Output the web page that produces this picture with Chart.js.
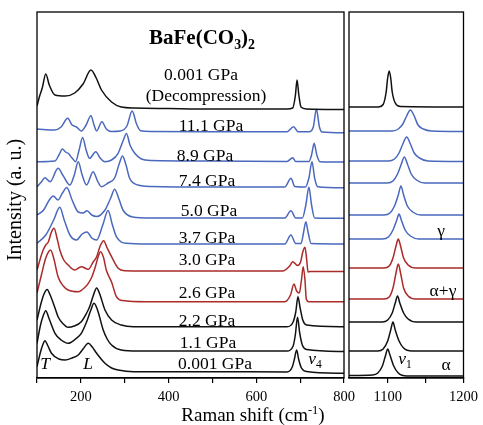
<!DOCTYPE html>
<html><head><meta charset="utf-8">
<script src="https://cdn.jsdelivr.net/npm/chart.js@4.4.0/dist/chart.umd.min.js"></script>
<style>
html,body{margin:0;padding:0;background:#fff;}
#wrap{position:relative;width:483px;height:425px;background:#fff;}
canvas{position:absolute;left:0;top:0;}
</style></head><body>
<div id="wrap"><canvas id="low" width="483" height="425"></canvas><canvas id="high" width="483" height="425"></canvas></div>
<script>
// ---------- DATA (Raman shift cm-1, stacked intensity a.u.) ----------
const seriesNames = ['0.001 GPa (Decompression)','11.1 GPa','8.9 GPa','7.4 GPa','5.0 GPa','3.7 GPa','3.0 GPa','2.6 GPa','2.2 GPa','1.1 GPa','0.001 GPa'];
const seriesPhase = ['black','blue','blue','blue','blue','blue','red','red','black','black','black'];

// low-frequency panel (100-800 cm-1)
const lowDecomp = [[100,272],[106,282],[112,290],[120,304],[128,293],[141,283],[164,282],[186,285],[205,294],[223,308],[235,300],[247,288],[270,276],[292,271],[323,270],[400,269.5],[500,269],[600,269],[670,269],[683,270],[689,282],[693,298],[697,283],[702,271],[715,269],[800,268.5]];
const low111 = [[100,249],[140,248],[155,251],[170,259.7],[180,253],[190,251],[201,247],[212,253],[223,262.3],[230,253],[236,247],[248,256.3],[258,249],[270,246.5],[290,247],[305,252],[317,267],[327,254],[336,247.3],[360,246.5],[500,246.3],[670,246.3],[685,251.3],[695,246.3],[720,246.3],[730,251],[737,268.7],[744,251],[750,246],[800,245.3]];
const low89 = [[100,216.3],[141,217],[150,223],[158,229],[165,226],[171,224.7],[180,220],[188,216.3],[196,228],[204,240.5],[212,228],[220,219.7],[234,226.3],[244,220],[255,216.3],[270,218],[285,224.7],[297,238],[304,244.5],[312,233],[323,224.7],[338,219],[360,217.5],[500,217],[670,216.5],[683,220.3],[690,216.5],[720,216.5],[726,223],[732,234.7],[738,223],[745,216.3],[800,216]];
const low74 = [[100,191.3],[110,196],[118,200.3],[130,196.3],[148,209.7],[160,202],[175,193],[185,203],[194,216.3],[203,203],[213,193],[228,206.3],[238,197],[247,191.3],[262,195],[277,200],[288,215],[295,222],[303,213],[311,200],[330,193],[360,191.5],[500,191],[665,191],[679,199.7],[688,191.5],[712,191],[720,200],[727,216.3],[733,200],[740,191.3],[800,190.3]];
const low50 = [[100,163],[115,168],[128,178],[137,182],[148,178],[158,185],[168,190.5],[180,178],[194,166],[205,165],[214,167.3],[225,163],[236,161.5],[255,168],[268,180],[277,188.7],[286,180],[296,168],[318,161],[360,160],[500,160],[665,160],[679,167.3],[690,160],[705,160],[713,173],[720,191],[726,173],[733,160],[800,159.7]];
const low37 = [[100,134.7],[120,143],[138,158],[152,170.7],[162,158],[175,143],[190,138],[203,144],[214,146],[225,140],[236,138],[250,153],[262,167.5],[272,153],[281,141.3],[304,134.7],[350,134],[500,134],[665,134],[679,143],[690,134.5],[702,134.5],[708,146],[713,156.3],[718,146],[725,134.5],[800,134]];
const low30 = [[100,108],[108,120],[114,128],[120,133],[126,136.3],[133,146],[139,149.7],[145,141],[152,128],[161,118],[171,113],[186,108],[201,111.3],[217,108.7],[228,116],[236,121.3],[244,132],[252,137.3],[260,130],[270,121.3],[285,109.7],[300,107.3],[400,107],[500,107],[660,107],[676,112],[683,116.3],[694,112.5],[701,116],[706,126],[711,130.7],[715,118],[718,106],[722,106.5],[800,106.5]];
const low26 = [[100,85],[110,103],[120,120],[131,128],[138,120],[148,101.3],[160,92],[171,88],[194,86.3],[210,91],[217,94.7],[225,101],[232,109.7],[240,122],[245,126.3],[252,120],[258,108],[270,96],[281,81.3],[295,77.5],[350,76.3],[500,76.3],[665,76.3],[678,83],[686,94],[692,87],[698,85],[703,98],[707,111.3],[711,98],[714,79],[720,76.3],[800,76.3]];
const low22 = [[100,58],[110,76],[116,84],[123,88.5],[130,83],[141,70],[148,61.3],[160,54],[171,50.7],[185,52],[201,56.3],[212,64],[220,71.3],[228,82],[236,90],[243,84],[255,68],[270,58],[292,53],[320,51.3],[500,51.3],[670,51.3],[684,56],[690,66],[695,81.3],[700,70],[706,58],[715,53],[800,51.3]];
const low11 = [[100,34.7],[108,53],[114,62],[120,67.3],[127,60],[141,44.7],[155,38],[171,34.7],[188,39],[201,44.7],[213,56],[222,67],[230,74.7],[238,68],[251,48],[260,39],[270,33],[292,28],[330,27],[500,27],[670,27],[684,32],[689,43],[694,60.7],[699,45],[705,33],[715,28.5],[800,26.5]];
const low0 = [[100,11.3],[108,26],[113,33],[118,37.3],[125,32],[133,24.7],[150,19],[164,18],[180,20],[194,23],[205,29],[217,34.7],[226,31],[236,24.7],[255,14.7],[270,10],[285,8],[320,6.3],[500,6.3],[670,6],[682,11],[687,19],[692,28],[697,18],[703,10],[715,6.5],[800,4.7]];

// high-frequency panel (nu1 region)
const highDecomp = [[1049,271],[1088,271],[1094,273.5],[1098,286],[1100,300],[1102,307],[1104,300],[1106,286],[1110,275],[1117,271.5],[1200,271]];
const high111 = [[1049,247],[1106,247],[1114,249],[1120,254],[1125,262],[1130,268],[1135,262],[1140,253],[1147,249],[1158,247],[1200,246.5]];
const high89 = [[1049,217],[1101,217],[1109,219],[1115,225],[1120,234],[1125,241],[1130,234],[1135,225],[1142,220],[1153,217],[1200,216.5]];
const high74 = [[1049,195],[1099,195],[1107,197],[1113,204],[1118,214],[1122,221],[1126,214],[1131,204],[1138,198],[1149,195],[1200,195]];
const high50 = [[1049,163],[1095,163],[1103,165],[1109,172],[1114,183],[1117.5,192],[1121,183],[1126,172],[1133,166],[1144,163],[1200,163]];
const high37 = [[1049,139],[1093,139],[1101,141],[1107,148],[1112,158],[1115,164],[1118,158],[1123,148],[1130,142],[1141,139],[1200,139]];
const high30 = [[1049,110],[1095,110],[1102,112],[1107,120],[1111,132],[1114,139],[1117,132],[1121,120],[1127,113],[1137,110],[1200,110]];
const high26 = [[1049,79],[1095,79],[1102,81],[1107,90],[1111,105],[1114,114],[1117,105],[1121,90],[1127,82],[1137,79],[1200,79]];
const high22 = [[1049,56],[1093,56],[1100,58],[1106,65],[1110,75],[1113,82],[1116,75],[1121,65],[1127,59],[1138,56],[1200,56]];
const high11 = [[1049,27],[1087,27],[1094,29],[1100,37],[1104,48],[1107,56],[1110,48],[1115,37],[1121,30],[1132,27],[1200,27]];
const high0 = [[1049,2.5],[1080,3],[1087,5],[1093,12],[1097,22],[1100,29],[1103,23],[1108,12],[1114,5],[1125,2],[1200,2]];

const lowSpectra = [lowDecomp, low111, low89, low74, low50, low37, low30, low26, low22, low11, low0];
const highSpectra = [highDecomp, high111, high89, high74, high50, high37, high30, high26, high22, high11, high0];

const lowTicks = [100,200,300,400,500,600,700,800];
const lowTickLabels = [200,400,600,800];
const highTicks = [1100,1150,1200];
const highTickLabels = [1100,1200];

// ---------- STYLE ----------
const phaseColor = {black:'#111111', blue:'#4a68bd', red:'#ab2a2a'};
const SERIF = '"Liberation Serif","DejaVu Serif",serif';

function makeDatasets(spectra){
  return spectra.map((s,i)=>({
    label: seriesNames[i],
    data: s.map(p=>({x:p[0], y:p[1]})),
    borderColor: phaseColor[seriesPhase[i]],
    borderWidth: 1.5,
    pointRadius: 0,
    fill: false,
    cubicInterpolationMode: 'monotone'
  }));
}

function drawRich(ctx, parts, cx, baseY, size, color){
  ctx.save();
  ctx.fillStyle = color || '#000';
  ctx.textBaseline = 'alphabetic';
  ctx.textAlign = 'left';
  const fontFor = p => {
    const sz = (p.sub||p.sup) ? size*0.66 : size;
    return (p.i?'italic ':'') + (p.b?'bold ':'') + sz + 'px ' + SERIF;
  };
  let total = 0;
  parts.forEach(p=>{ ctx.font = fontFor(p); p.w = ctx.measureText(p.t).width; total += p.w; });
  let x = cx - total/2;
  parts.forEach(p=>{
    ctx.font = fontFor(p);
    let y = baseY;
    if (p.sub) y += size*0.25;
    if (p.sup) y -= size*0.38;
    ctx.fillText(p.t, x, y);
    x += p.w;
  });
  ctx.restore();
}

const frame = {
  id:'frame',
  afterDraw(chart){
    const a = chart.chartArea, ctx = chart.ctx;
    ctx.save(); ctx.strokeStyle = '#000'; ctx.lineWidth = 1.3;
    ctx.strokeRect(a.left, a.top, a.right-a.left, a.bottom-a.top);
    ctx.restore();
  }
};

// annotation text (pixel anchors: center x, baseline y)
const lowNotes = [
  {parts:[{t:'BaFe(CO',b:true},{t:'3',b:true,sub:true},{t:')',b:true},{t:'2',b:true,sub:true}], x:202, y:44, size:21},
  {parts:[{t:'0.001 GPa'}], x:201, y:80, size:17.5},
  {parts:[{t:'(Decompression)'}], x:206, y:101, size:17.5},
  {parts:[{t:'11.1 GPa'}], x:211, y:131, size:17.5},
  {parts:[{t:'8.9 GPa'}], x:205, y:161, size:17.5},
  {parts:[{t:'7.4 GPa'}], x:207, y:186, size:17.5},
  {parts:[{t:'5.0 GPa'}], x:209, y:216, size:17.5},
  {parts:[{t:'3.7 GPa'}], x:207, y:243, size:17.5},
  {parts:[{t:'3.0 GPa'}], x:207, y:265, size:17.5},
  {parts:[{t:'2.6 GPa'}], x:207, y:298, size:17.5},
  {parts:[{t:'2.2 GPa'}], x:207, y:326, size:17.5},
  {parts:[{t:'1.1 GPa'}], x:208, y:348, size:17.5},
  {parts:[{t:'0.001 GPa'}], x:215, y:369, size:17.5},
  {parts:[{t:'T',i:true}], x:45, y:369, size:17.5},
  {parts:[{t:'L',i:true}], x:88, y:369, size:17.5},
  {parts:[{t:'ν',i:true},{t:'4',sub:true}], x:315, y:364, size:17.5},
  {parts:[{t:'Raman shift (cm'},{t:'-1',sup:true},{t:')'}], x:253, y:421, size:19}
];
const highNotes = [
  {parts:[{t:'ν',i:true},{t:'1',sub:true}], x:405, y:364, size:17.5},
  {parts:[{t:'α'}], x:446, y:370, size:17.5},
  {parts:[{t:'α+γ'}], x:443, y:296, size:17.5},
  {parts:[{t:'γ'}], x:441, y:236, size:17.5}
];

const notesPlugin = notes => ({
  id:'notes',
  afterDraw(chart){
    const ctx = chart.ctx;
    notes.forEach(n=>drawRich(ctx, n.parts, n.x, n.y, n.size, '#000'));
  }
});

const yTitlePlugin = {
  id:'ytitle',
  afterDraw(chart){
    const ctx = chart.ctx;
    ctx.save();
    ctx.translate(21, 200);
    ctx.rotate(-Math.PI/2);
    drawRich(ctx, [{t:'Intensity (a. u.)'}], 0, 0, 20, '#000');
    ctx.restore();
  }
};

function xScale(min, max, ticks, labels){
  return {
    type:'linear', min, max,
    afterBuildTicks: s => { s.ticks = ticks.map(v=>({value:v})); },
    ticks:{
      callback: v => labels.includes(v) ? String(v) : '',
      font:{family:SERIF, size:14.5}, color:'#000', padding:5,
      maxRotation:0, autoSkip:false
    },
    grid:{drawOnChartArea:false, drawTicks:true, tickLength:5, color:'#000', lineWidth:1.2},
    border:{display:true, color:'#000', width:1.3},
    afterFit: s => { s.height = 47; }
  };
}

const common = {
  responsive:false, animation:false, devicePixelRatio:1,
  plugins:{legend:{display:false}, tooltip:{enabled:false}},
  elements:{line:{borderJoinStyle:'round'}}
};

new Chart(document.getElementById('low'), {
  type:'line',
  data:{datasets: makeDatasets(lowSpectra)},
  options:Object.assign({}, common, {
    layout:{padding:{left:0, top:12, right:139, bottom:0}},
    scales:{
      x: xScale(100, 800, lowTicks, lowTickLabels),
      y: {min:0, max:366, ticks:{display:false}, grid:{display:false}, border:{display:false},
          afterFit: s => { s.width = 37; }}
    }
  }),
  plugins:[frame, notesPlugin(lowNotes), yTitlePlugin]
});

new Chart(document.getElementById('high'), {
  type:'line',
  data:{datasets: makeDatasets(highSpectra)},
  options:Object.assign({}, common, {
    layout:{padding:{left:349, top:12, right:15, bottom:0}},
    scales:{
      x: xScale(1049, 1200, highTicks, highTickLabels),
      y: {display:false, min:0, max:366}
    }
  }),
  plugins:[frame, notesPlugin(highNotes)]
});
</script>
</body></html>
